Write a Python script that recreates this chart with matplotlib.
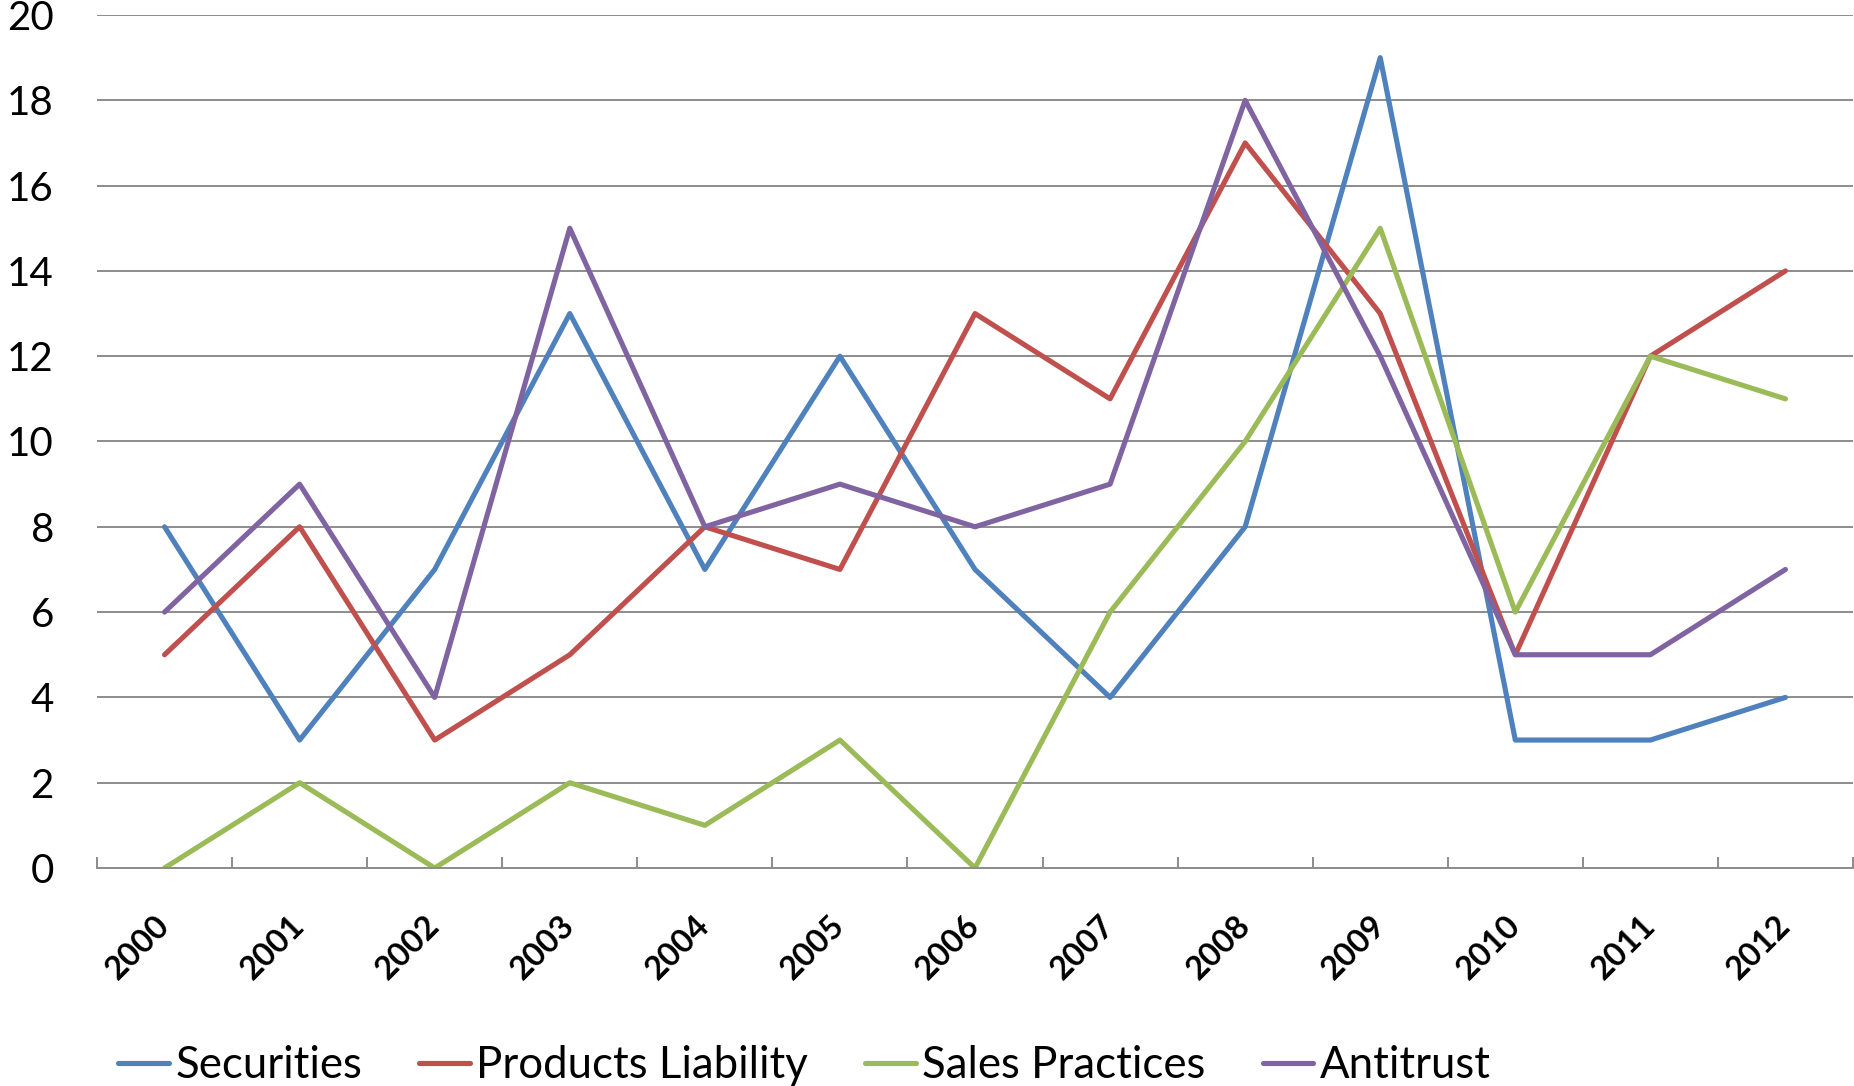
import matplotlib.pyplot as plt
import numpy as np

plt.rcParams['font.family'] = ['Lato', 'DejaVu Sans']

# data
years = ['2000', '2001', '2002', '2003', '2004', '2005', '2006',
         '2007', '2008', '2009', '2010', '2011', '2012']
securities = [8, 3, 7, 13, 7, 12, 7, 4, 8, 19, 3, 3, 4]
products_liability = [5, 8, 3, 5, 8, 7, 13, 11, 17, 13, 5, 12, 14]
sales_practices = [0, 2, 0, 2, 1, 3, 0, 6, 10, 15, 6, 12, 11]
antitrust = [6, 9, 4, 15, 8, 9, 8, 9, 18, 12, 5, 5, 7]

names = ['Securities', 'Products Liability', 'Sales Practices', 'Antitrust']
colors = ['#4F81BD', '#C0504D', '#9BBB59', '#8064A2']
series = [securities, products_liability, sales_practices, antitrust]

W, H = 1854, 1086
fig = plt.figure(figsize=(W / 100, H / 100), dpi=100)
ax = fig.add_axes([97 / W, 1 - 868 / H, (1853 - 97) / W, (868 - 15) / H])

x = np.arange(len(years))
for vals, name, c in zip(series, names, colors):
    ax.plot(x, vals, color=c, lw=3.7, label=name,
            solid_capstyle='round', solid_joinstyle='round')

ax.set_xlim(-0.5, len(years) - 0.5)
ax.set_ylim(0, 20)
ax.set_yticks(np.arange(0, 21, 2))
ax.yaxis.grid(True, color='#8c8c8c', lw=1.4)
ax.set_axisbelow(True)

for s in ['left', 'top', 'right']:
    ax.spines[s].set_visible(False)
ax.spines['bottom'].set_color('#8c8c8c')
ax.spines['bottom'].set_linewidth(1.4)

ax.tick_params(axis='y', length=0, pad=31, labelsize=29)
ax.set_xticks(x)
ax.set_xticklabels(years, rotation=45, ha='right', va='center',
                   rotation_mode='anchor', fontsize=23.5, fontweight='bold')
ax.tick_params(axis='x', which='major', length=0, pad=38)
ax.set_xticks(np.arange(-0.5, len(years)), minor=True)
ax.tick_params(axis='x', which='minor', direction='in', length=8,
               width=1.4, color='#8c8c8c')

fig.legend(loc='center left', bbox_to_anchor=(118 / W, 1 - 1066 / H),
           ncol=4, frameon=False, fontsize=31.5, borderaxespad=0, borderpad=0,
           handlelength=1.16, handletextpad=0.15, columnspacing=1.3)

fig.savefig('out.png', dpi=100)
